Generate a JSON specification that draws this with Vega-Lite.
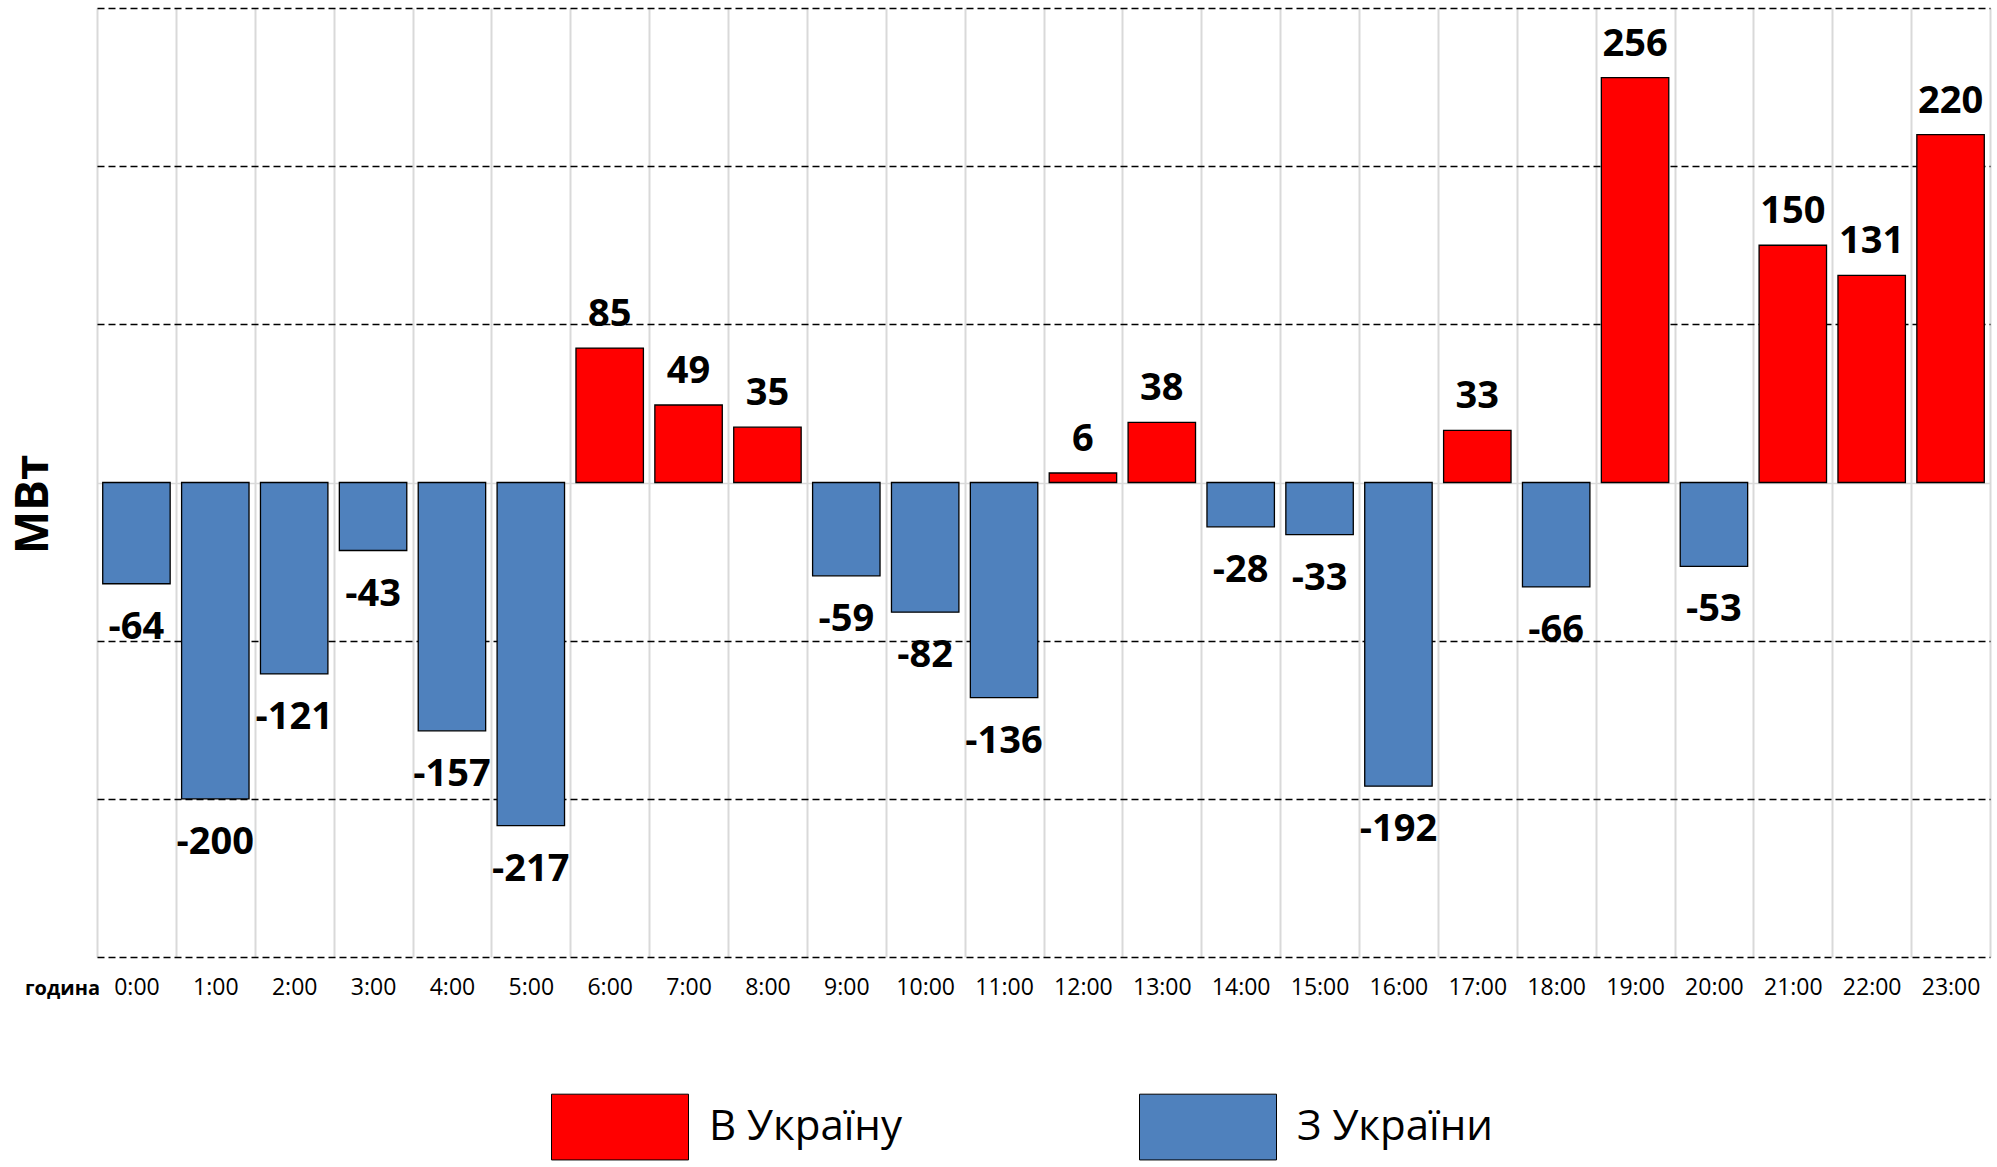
{
  "$schema": "https://vega.github.io/schema/vega-lite/v6.json",
  "width": 1893,
  "height": 949,
  "autosize": {"type": "none"},
  "padding": {"left": 97, "top": 8, "right": 7, "bottom": 210},
  "background": "white",
  "config": {"view": {"stroke": null}, "font": "Open Sans"},
  "data": {
    "values": [
      {"hour": "0:00", "value": -64, "dir": "З України"},
      {"hour": "1:00", "value": -200, "dir": "З України"},
      {"hour": "2:00", "value": -121, "dir": "З України"},
      {"hour": "3:00", "value": -43, "dir": "З України"},
      {"hour": "4:00", "value": -157, "dir": "З України"},
      {"hour": "5:00", "value": -217, "dir": "З України"},
      {"hour": "6:00", "value": 85, "dir": "В Україну"},
      {"hour": "7:00", "value": 49, "dir": "В Україну"},
      {"hour": "8:00", "value": 35, "dir": "В Україну"},
      {"hour": "9:00", "value": -59, "dir": "З України"},
      {"hour": "10:00", "value": -82, "dir": "З України"},
      {"hour": "11:00", "value": -136, "dir": "З України"},
      {"hour": "12:00", "value": 6, "dir": "В Україну"},
      {"hour": "13:00", "value": 38, "dir": "В Україну"},
      {"hour": "14:00", "value": -28, "dir": "З України"},
      {"hour": "15:00", "value": -33, "dir": "З України"},
      {"hour": "16:00", "value": -192, "dir": "З України"},
      {"hour": "17:00", "value": 33, "dir": "В Україну"},
      {"hour": "18:00", "value": -66, "dir": "З України"},
      {"hour": "19:00", "value": 256, "dir": "В Україну"},
      {"hour": "20:00", "value": -53, "dir": "З України"},
      {"hour": "21:00", "value": 150, "dir": "В Україну"},
      {"hour": "22:00", "value": 131, "dir": "В Україну"},
      {"hour": "23:00", "value": 220, "dir": "В Україну"}
    ]
  },
  "encoding": {
    "x": {
      "field": "hour", "type": "ordinal", "sort": null,
      "scale": {"paddingInner": 0, "paddingOuter": 0},
      "axis": {
        "title": "година", "titleFontWeight": "bold", "titleFontSize": 20, "titleColor": "black",
        "titleX": -35, "titleY": 31, "titleAlign": "center", "titleBaseline": "middle", "titleAngle": 0,
        "labelAngle": 0, "labelFontSize": 23, "labelColor": "black", "labelPadding": 30, "labelBaseline": "middle",
        "ticks": false, "domain": false, "grid": true, "gridColor": "#d9d9d9", "gridWidth": 2, "tickBand": "extent"
      }
    },
    "y": {
      "field": "value", "type": "quantitative",
      "scale": {"domain": [-300, 300], "nice": false},
      "axis": {
        "title": "МВт", "titleFontSize": 46, "titleFontWeight": "bold", "titleColor": "black", "titlePadding": 40,
        "titleY": 496,
        "labels": false, "ticks": false, "domain": false, "grid": true,
        "values": [-300, -200, -100, 0, 100, 200, 300],
        "gridColor": {"condition": {"test": "datum.value === 0", "value": "#d9d9d9"}, "value": "black"},
        "gridDash": {"condition": {"test": "datum.value === 0", "value": []}, "value": [7, 4]},
        "gridWidth": 1.3
      }
    }
  },
  "layer": [
    {
      "mark": {"type": "bar", "width": {"band": 0.855}, "stroke": "black", "strokeWidth": 1.3},
      "encoding": {
        "color": {
          "field": "dir", "type": "nominal",
          "scale": {"domain": ["В Україну", "З України"], "range": ["#FF0000", "#4F81BD"]},
          "legend": {
            "title": null, "orient": "none", "legendX": 454, "legendY": 1050, "direction": "horizontal",
            "symbolType": "M-1,-0.48H1V0.48H-1Z", "symbolSize": 18769, "symbolStrokeColor": "black",
            "symbolStrokeWidth": 1, "symbolOpacity": 1, "labelFontSize": 42, "labelColor": "black",
            "labelOffset": 20, "columnPadding": 235, "labelLimit": 400
          }
        }
      }
    },
    {
      "transform": [{"filter": "datum.value >= 0"}],
      "mark": {"type": "text", "fontWeight": "bold", "fontSize": 38, "baseline": "alphabetic", "dy": -22, "color": "black"},
      "encoding": {"text": {"field": "value", "type": "nominal"}}
    },
    {
      "transform": [{"filter": "datum.value < 0"}],
      "mark": {"type": "text", "fontWeight": "bold", "fontSize": 38, "baseline": "alphabetic", "dy": 55, "color": "black"},
      "encoding": {"text": {"field": "value", "type": "nominal"}}
    }
  ]
}
